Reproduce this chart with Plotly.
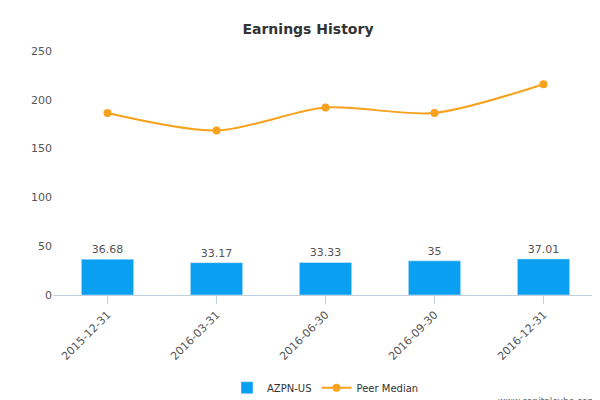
import plotly.graph_objects as go

dates = ["2015-12-31", "2016-03-31", "2016-06-30", "2016-09-30", "2016-12-31"]
azpn = [36.68, 33.17, 33.33, 35, 37.01]
azpn_labels = ["36.68", "33.17", "33.33", "35", "37.01"]
peer = [186.5, 168.5, 192, 186.5, 216]

fig = go.Figure()
fig.add_trace(go.Bar(x=dates, y=azpn, name="AZPN-US", marker_color="#0a9ff0",
                     width=0.48, text=azpn_labels, textposition="outside",
                     textfont=dict(size=11, color="#555"), cliponaxis=False))
fig.add_trace(go.Scatter(x=dates, y=peer, name="Peer Median", mode="lines+markers",
                         line=dict(color="#f8a11c", width=2, shape="spline", smoothing=0.8),
                         marker=dict(size=8, color="#f8a11c")))

fig.update_layout(
    width=600, height=400,
    margin=dict(l=45, r=10, t=43, b=113, autoexpand=False),
    plot_bgcolor="white", paper_bgcolor="white",
    font=dict(family="DejaVu Sans", size=11, color="#555"),
    title=dict(text="<b>Earnings History</b>", x=0.5, y=0.96, xanchor="center",
               font=dict(size=14, color="#333")),
    showlegend=True,
    legend=dict(orientation="h", x=0.5, xanchor="center", y=-0.38, yanchor="middle",
                font=dict(size=10, color="#333")),
)
fig.update_xaxes(type="category", tickangle=-45, showline=True, linecolor="#c0d0e0",
                 ticks="outside", tickcolor="#c0d0e0", ticklen=8, showgrid=False,
                 automargin=False, tickfont=dict(size=11, color="#555"))
fig.update_yaxes(range=[0, 250], dtick=50, showgrid=False, zeroline=False,
                 automargin=False, tickfont=dict(size=11, color="#555"))
fig.add_annotation(text="www.capitalcube.com", xref="paper", yref="paper",
                   x=1, y=-0.435, yanchor="middle", xanchor="right", showarrow=False,
                   font=dict(size=9, color="#666"))

fig.write_html("out.html")
